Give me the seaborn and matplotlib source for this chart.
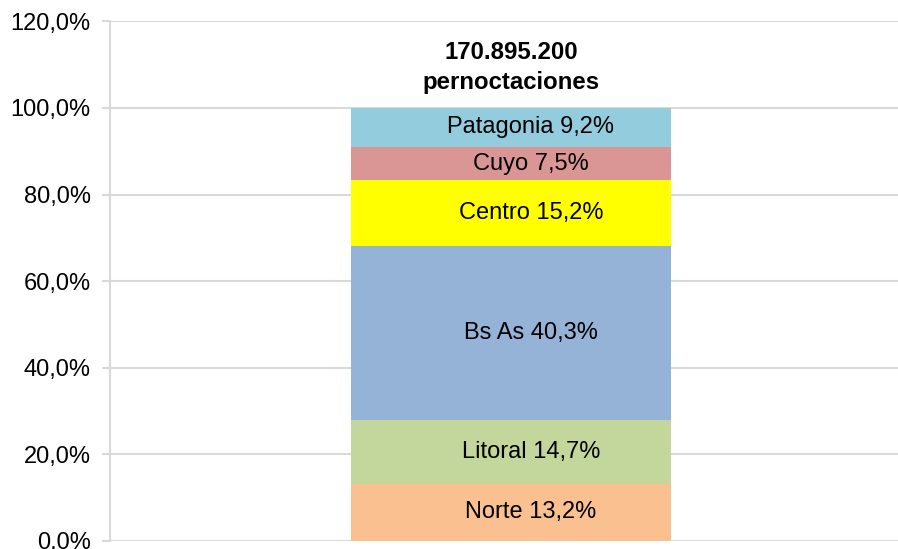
import numpy as np
import pandas as pd
import matplotlib
matplotlib.use('Agg')
import matplotlib.pyplot as plt
import seaborn as sns

# share of overnight stays by region (bottom to top)
regions = ['Norte', 'Litoral', 'Bs As', 'Centro', 'Cuyo', 'Patagonia']
shares = [13.2, 14.7, 40.3, 15.2, 7.5, 9.2]
colors = ['#FAC090', '#C3D69B', '#95B3D7', '#FFFF00', '#D99694', '#93CDDD']
total_label = '170.895.200\npernoctaciones'
yticks = [0, 20, 40, 60, 80, 100, 120]

sns.set_style('white')
plt.rcParams['font.family'] = ['Liberation Sans', 'DejaVu Sans']
plt.rcParams['text.color'] = 'black'
plt.rcParams['ytick.labelcolor'] = 'black'

cum = np.cumsum(shares)
bottoms = cum - np.array(shares)

fig = plt.figure(figsize=(8.98, 5.49), dpi=100)
ax = fig.add_axes([0.1225, 0.0146, 0.8775, 0.9465])

# stacked look: draw cumulative bars from tallest to shortest
for i in range(len(regions) - 1, -1, -1):
    df = pd.DataFrame({'cat': ['total'], 'val': [cum[i]]})
    sns.barplot(data=df, x='cat', y='val', color=colors[i], width=0.406,
                saturation=1, linewidth=0, edgecolor='none', ax=ax, zorder=2)

for name, v, b in zip(regions, shares, bottoms):
    ax.text(0.025, b + v / 2, f'{name} {v:.1f}%'.replace('.', ','),
            ha='center', va='center', fontsize=17, color='black', zorder=3)

ax.text(0.0, 109.3, total_label, ha='center', va='center', fontsize=17.3,
        fontweight='bold', linespacing=1.4, color='black', zorder=3)

ax.set_xlim(-0.509, 0.491)
ax.set_ylim(0, 120)
ax.set_yticks(yticks)
ax.set_yticklabels([f'{t:.1f}%'.replace('.', ',') for t in yticks], fontsize=17)
ax.set_xticks([])
ax.set_xlabel('')
ax.set_ylabel('')
ax.yaxis.grid(True, color='#d9d9d9', linewidth=1.5, zorder=0)
ax.set_axisbelow(True)
for s in ['top', 'right', 'bottom']:
    ax.spines[s].set_visible(False)
ax.spines['left'].set_color('#d9d9d9')
ax.spines['left'].set_linewidth(1.5)
ax.tick_params(axis='y', direction='out', length=6, width=1.5, color='#d9d9d9',
               labelcolor='black', pad=8, left=True)

fig.savefig('out.png', dpi=100)
